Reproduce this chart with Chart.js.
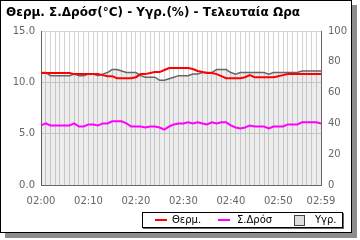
<!DOCTYPE html>
<html>
<head>
<meta charset="utf-8">
<script src="https://cdn.jsdelivr.net/npm/chart.js@4"></script>
<style>
  body { margin: 0; background: #fff; }
  #frame {
    position: absolute; left: 0; top: 0;
    width: 352px; height: 233px; box-sizing: border-box;
    border: 1px solid #000; box-shadow: 5px 5px 0 #8c8c8c; background: #fff;
  }
  #chart { position: absolute; left: 0; top: 0; }
  #legend {
    position: absolute; left: 141px; top: 211px; width: 199px; height: 14px;
    border: 1px solid #000; box-shadow: 1px 1px 0 #666; background: #fff;
    font: 10px "DejaVu Sans", sans-serif; color: #000;
  }
  #legend .ln { position: absolute; top: 6px; width: 12px; height: 2px; }
  #legend .sq { position: absolute; top: 2px; width: 9px; height: 9px; border: 1px solid #444; background: #ddd; }
  #legend .tx { position: absolute; top: 0; line-height: 14px; }
</style>
</head>
<body>
<div id="frame">
  <canvas id="chart"></canvas>
  <div id="legend">
    <div class="ln" style="left:12px;background:#ff0000"></div><div class="tx" style="left:29px">Θερμ.</div>
    <div class="ln" style="left:75px;background:#ff00ff"></div><div class="tx" style="left:94px">Σ.Δρόσ</div>
    <div class="sq" style="left:151px"></div><div class="tx" style="left:172px">Υγρ.</div>
  </div>
</div>
<script>
// ********** data ************
const minutes = [
  "02:00", "02:01", "02:02", "02:03", "02:04", "02:05", "02:06", "02:07", "02:08", "02:09",
  "02:10", "02:11", "02:12", "02:13", "02:14", "02:15", "02:16", "02:17", "02:18", "02:19",
  "02:20", "02:21", "02:22", "02:23", "02:24", "02:25", "02:26", "02:27", "02:28", "02:29",
  "02:30", "02:31", "02:32", "02:33", "02:34", "02:35", "02:36", "02:37", "02:38", "02:39",
  "02:40", "02:41", "02:42", "02:43", "02:44", "02:45", "02:46", "02:47", "02:48", "02:49",
  "02:50", "02:51", "02:52", "02:53", "02:54", "02:55", "02:56", "02:57", "02:58", "02:59",
];
const shownTicks = ["02:00", "02:10", "02:20", "02:30", "02:40", "02:50", "02:59"];

const temp = [
  10.9, 10.9, 10.9, 10.9, 10.9, 10.9, 10.9, 10.8, 10.8, 10.8,
  10.8, 10.8, 10.8, 10.7, 10.6, 10.6, 10.4, 10.4, 10.4, 10.4,
  10.5, 10.8, 10.8, 10.9, 11.0, 11.0, 11.2, 11.4, 11.4, 11.4,
  11.4, 11.4, 11.3, 11.1, 11.0, 10.9, 10.9, 10.8, 10.6, 10.4,
  10.4, 10.4, 10.4, 10.5, 10.7, 10.5, 10.5, 10.5, 10.5, 10.5,
  10.6, 10.7, 10.8, 10.8, 10.8, 10.8, 10.8, 10.8, 10.8, 10.8,
];
const dew = [
  5.8, 6.0, 5.8, 5.8, 5.8, 5.8, 5.8, 6.0, 5.7, 5.7,
  5.9, 5.9, 5.8, 6.0, 6.0, 6.2, 6.2, 6.2, 6.0, 5.7,
  5.7, 5.7, 5.6, 5.7, 5.7, 5.6, 5.4, 5.7, 5.9, 6.0,
  6.0, 6.1, 6.0, 6.1, 6.0, 5.9, 6.1, 6.0, 6.1, 6.1,
  5.8, 5.6, 5.5, 5.6, 5.8, 5.7, 5.7, 5.7, 5.5, 5.7,
  5.7, 5.7, 5.9, 5.9, 5.9, 6.1, 6.1, 6.1, 6.1, 6.0,
];
const hum = [
  73, 73, 71, 71, 71, 71, 71, 72, 71, 71,
  72, 72, 71, 72, 73, 75, 75, 74, 73, 73,
  73, 71, 70, 70, 70, 68, 68, 69, 70, 71,
  71, 71, 72, 72, 73, 73, 73, 75, 75, 75,
  73, 72, 73, 73, 73, 73, 73, 73, 72, 73,
  73, 73, 73, 73, 73, 74, 74, 74, 74, 74,
];

// ********** chart ************
const tickFont = { family: "DejaVu Sans", size: 10 };
const tickColor = "#666";

const canvas = document.getElementById("chart");
canvas.width = 350;
canvas.height = 231;
canvas.style.width = "350px";
canvas.style.height = "231px";

new Chart(canvas, {
  type: "line",
  data: {
    labels: minutes,
    datasets: [
      {
        label: "Θερμ.",
        data: temp,
        yAxisID: "y",
        borderColor: "#ff0000",
        borderWidth: 2,
        pointRadius: 0,
        fill: false,
      },
      {
        label: "Σ.Δρόσ",
        data: dew,
        yAxisID: "y",
        borderColor: "#ff00ff",
        borderWidth: 2,
        pointRadius: 0,
        fill: false,
      },
      {
        label: "Υγρ.",
        data: hum,
        yAxisID: "y2",
        borderColor: "#666",
        borderWidth: 1.5,
        backgroundColor: "rgba(0,0,0,0.07)",
        pointRadius: 0,
        fill: "start",
      },
    ],
  },
  options: {
    responsive: false,
    animation: false,
    layout: { padding: { left: 5, right: 0, top: 0, bottom: 0 } },
    plugins: {
      legend: { display: false },
      tooltip: { enabled: false },
      title: {
        display: true,
        text: "Θερμ. Σ.Δρόσ(°C) - Υγρ.(%) - Τελευταία Ωρα",
        align: "start",
        color: "#000",
        font: { family: "DejaVu Sans", size: 12, weight: "bold" },
        padding: { top: 5, bottom: 10.6 },
      },
    },
    scales: {
      x: {
        ticks: {
          autoSkip: false,
          maxRotation: 0,
          padding: 10,
          color: tickColor,
          font: tickFont,
          callback: (v, i) => (shownTicks.includes(minutes[i]) ? minutes[i] : ""),
        },
        grid: { color: "#d4d4d4", drawTicks: false },
        border: { color: "#666" },
        afterFit: (s) => { s.height = 47; },
      },
      y: {
        position: "left",
        min: 0,
        max: 15,
        ticks: {
          stepSize: 5,
          padding: 6,
          color: tickColor,
          font: tickFont,
          callback: (v) => v.toFixed(1),
        },
        grid: { color: "#d4d4d4", drawTicks: false },
        border: { color: "#666" },
        afterFit: (s) => { s.width = 35; },
      },
      y2: {
        position: "right",
        min: 0,
        max: 100,
        ticks: { stepSize: 20, padding: 7, color: tickColor, font: tickFont },
        grid: { drawOnChartArea: false, drawTicks: false },
        border: { color: "#666" },
        afterFit: (s) => { s.width = 30; },
      },
    },
  },
});
</script>
</body>
</html>
